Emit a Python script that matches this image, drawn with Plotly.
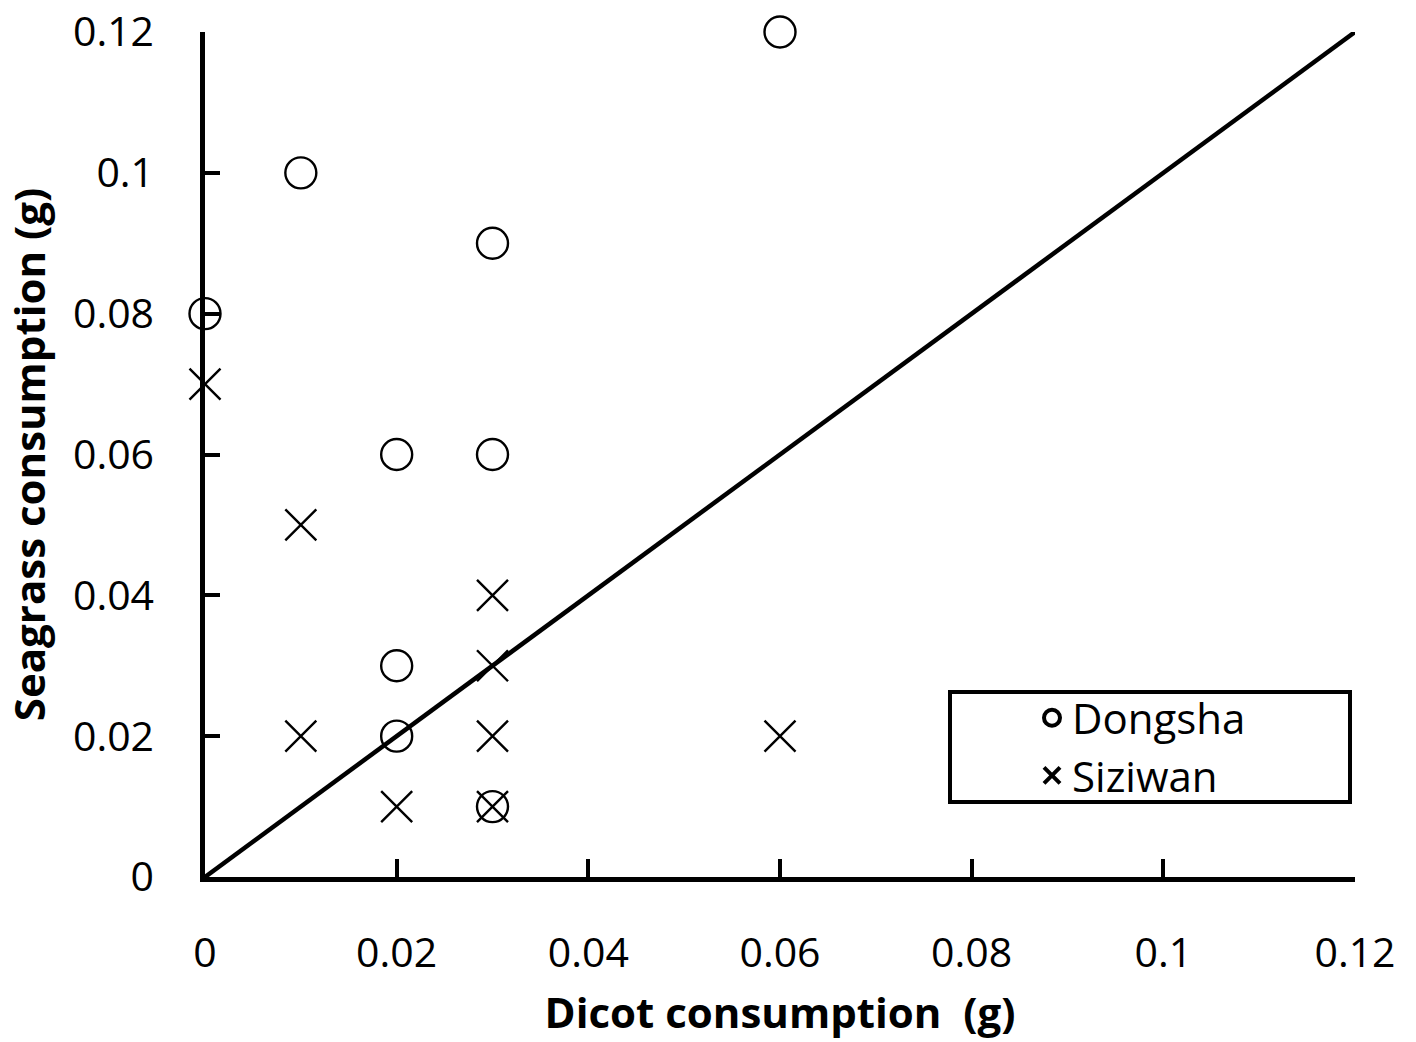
import plotly.graph_objects as go

# Data
dongsha_x = [0.06, 0.01, 0.03, 0.0, 0.02, 0.03, 0.02, 0.02, 0.03]
dongsha_y = [0.12, 0.10, 0.09, 0.08, 0.06, 0.06, 0.03, 0.02, 0.01]
siziwan_x = [0.0, 0.01, 0.03, 0.03, 0.01, 0.03, 0.06, 0.02, 0.03]
siziwan_y = [0.07, 0.05, 0.04, 0.03, 0.02, 0.02, 0.02, 0.01, 0.01]
line_x = [0.0, 0.12]
line_y = [0.0, 0.12]
tick_vals = [0, 0.02, 0.04, 0.06, 0.08, 0.1, 0.12]
tick_text = ["0", "0.02", "0.04", "0.06", "0.08", "0.1", "0.12"]

FONT = "Open Sans"
W, H = 1416, 1042
L, R, T, B = 205, 61, 32, 165
pw, ph = W - L - R, H - T - B

def px_x(p):
    return (p - L) / pw

def px_y(p):
    return (H - B - p) / ph

fig = go.Figure()
fig.add_trace(go.Scatter(x=line_x, y=line_y, mode="lines",
                         line=dict(color="black", width=4.5),
                         showlegend=False, hoverinfo="skip", cliponaxis=False))
fig.add_trace(go.Scatter(x=dongsha_x, y=dongsha_y, mode="markers", name="Dongsha",
                         marker=dict(symbol="circle-open", size=31, color="black",
                                     line=dict(color="black", width=2.4)),
                         showlegend=False, cliponaxis=False))
fig.add_trace(go.Scatter(x=siziwan_x, y=siziwan_y, mode="markers", name="Siziwan",
                         marker=dict(symbol="x-thin-open", size=31, color="black",
                                     line=dict(color="black", width=2.4)),
                         showlegend=False, cliponaxis=False))
# legend-only entries with bolder symbols
fig.add_trace(go.Scatter(x=[None], y=[None], mode="markers", name="Dongsha",
                         marker=dict(symbol="circle-open", size=16, color="black",
                                     line=dict(color="black", width=4))))
fig.add_trace(go.Scatter(x=[None], y=[None], mode="markers", name="Siziwan",
                         marker=dict(symbol="x-thin-open", size=16, color="black",
                                     line=dict(color="black", width=4))))

axis_common = dict(range=[0, 0.12], showgrid=False, zeroline=False,
                   showline=True, linecolor="black", linewidth=4.5,
                   ticks="inside", tickwidth=4, tickcolor="black",
                   tickvals=tick_vals, ticktext=tick_text, automargin=False,
                   tickfont=dict(family=FONT, size=41, color="black"))

fig.update_layout(
    width=W, height=H,
    margin=dict(l=L, r=R, t=T, b=B),
    paper_bgcolor="white", plot_bgcolor="white",
    xaxis=dict(**axis_common, ticklen=18, ticklabelstandoff=36,
               title=dict(text="<b>Dicot consumption  (g)</b>",
                          font=dict(family=FONT, size=42, color="black"),
                          standoff=22)),
    yaxis=dict(**axis_common, ticklen=15, ticklabelstandoff=38,
               title=dict(text="<b>Seagrass consumption (g)</b>",
                          font=dict(family=FONT, size=42, color="black"),
                          standoff=20)),
    legend=dict(x=px_x(1032), y=px_y(747), xanchor="left", yanchor="middle",
                bgcolor="rgba(0,0,0,0)", borderwidth=0,
                font=dict(family=FONT, size=42, color="black"),
                tracegroupgap=0),
    shapes=[dict(type="rect", xref="paper", yref="paper",
                 x0=px_x(950), x1=px_x(1350), y0=px_y(802), y1=px_y(692),
                 line=dict(color="black", width=4), fillcolor="rgba(0,0,0,0)")],
)

fig.write_html("out.html")
